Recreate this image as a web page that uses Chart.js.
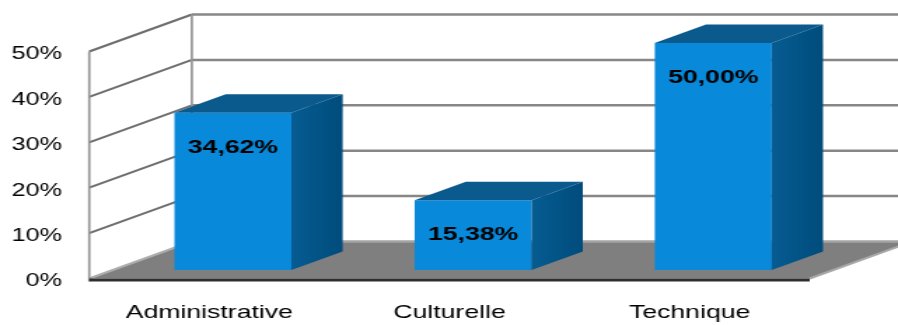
<!DOCTYPE html>
<html>
<head>
<meta charset="utf-8">
<script src="https://cdn.jsdelivr.net/npm/chart.js@4.4.1/dist/chart.umd.min.js"></script>
<style>
  html, body { margin: 0; padding: 0; background: #fff; overflow: hidden; }
  /* the chart is laid out narrow and widened horizontally, giving the stretched Excel look */
  #wrap { position: absolute; left: 0; top: 0; width: 641px; height: 325px;
          transform: scaleX(1.40094); transform-origin: 0 0; }
</style>
</head>
<body>
<div id="wrap"><canvas id="c"></canvas></div>
<script>
// ---- data ----
const categories = ['Administrative', 'Culturelle', 'Technique'];
const shares = [34.62, 15.38, 50.00];
const yTicks = [0, 10, 20, 30, 40, 50];

// ---- 3D look ----
const DEPTH = { x: 73.2, y: -37 };   // full depth of the box (front plane -> back wall)
const BAR_FRONT = 0.23;              // where the bar fronts sit inside the depth
const BAR_DEPTH = 0.5;               // how deep each bar is
const COLORS = {
  front: '#0889DA',
  top: '#0B5A8E',
  floor: '#7f7f7f',
  grid: '#878787',
  wallLine: '#6e6e6e'
};

const fmt = v => v.toFixed(2).replace('.', ',') + '%';

function line(ctx, x1, y1, x2, y2) {
  ctx.beginPath(); ctx.moveTo(x1, y1); ctx.lineTo(x2, y2); ctx.stroke();
}
function poly(ctx, pts) {
  ctx.beginPath();
  pts.forEach((p, i) => i ? ctx.lineTo(p[0], p[1]) : ctx.moveTo(p[0], p[1]));
  ctx.closePath(); ctx.fill();
}

const box3d = {
  id: 'box3d',
  beforeDatasetsDraw(chart) {
    const { ctx, chartArea: a, scales: { y } } = chart;
    const y0 = y.getPixelForValue(0);
    const yTop = y.getPixelForValue(yTicks[yTicks.length - 1]);
    const dx = DEPTH.x, dy = DEPTH.y;
    ctx.save();

    // floor
    ctx.fillStyle = COLORS.floor;
    poly(ctx, [[a.left, y0], [a.right, y0], [a.right + dx, y0 + dy], [a.left + dx, y0 + dy]]);

    // back wall gridlines
    ctx.lineWidth = 2.5;
    yTicks.forEach(v => {
      const py = y.getPixelForValue(v) + dy;
      ctx.strokeStyle = v === 0 ? '#a4a4a4' : COLORS.grid;
      line(ctx, a.left + dx, py, chart.width + 20, py);
    });

    // left wall gridlines (diagonals)
    ctx.lineWidth = 2;
    yTicks.forEach(v => {
      const py = y.getPixelForValue(v);
      ctx.strokeStyle = v === 0 ? '#adadad' : COLORS.wallLine;
      line(ctx, a.left, py, a.left + dx, py + dy);
    });

    // floor right edge
    ctx.strokeStyle = '#a8a8a8';
    line(ctx, a.right, y0, a.right + dx, y0 + dy);

    // wall edges
    ctx.strokeStyle = '#959595';
    ctx.lineWidth = 1.7;
    line(ctx, a.left, yTop, a.left, y0 + 3);
    line(ctx, a.left + dx, yTop + dy, a.left + dx, y0 + dy);

    // dark front edge of the floor
    ctx.strokeStyle = '#2e2e2e';
    ctx.lineWidth = 3;
    line(ctx, a.left, y0 + 1.5, a.right, y0 + 1.5);

    ctx.restore();

    // bars sit a little behind the front plane
    ctx.save();
    ctx.translate(BAR_FRONT * dx, BAR_FRONT * dy);
  },
  afterDatasetsDraw(chart) {
    const { ctx } = chart;
    const meta = chart.getDatasetMeta(0);
    const ox = BAR_DEPTH * DEPTH.x, oy = BAR_DEPTH * DEPTH.y;
    meta.data.forEach((bar, i) => {
      const { x, y, base, width } = bar.getProps(['x', 'y', 'base', 'width'], true);
      const l = x - width / 2, r = x + width / 2;
      // top face
      ctx.fillStyle = COLORS.top;
      poly(ctx, [[l, y], [r, y], [r + ox, y + oy], [l + ox, y + oy]]);
      // side face
      const g = ctx.createLinearGradient(r, 0, r + ox, 0);
      g.addColorStop(0, '#065C92');
      g.addColorStop(1, '#004C7C');
      ctx.fillStyle = g;
      poly(ctx, [[r, y], [r + ox, y + oy], [r + ox, base + oy], [r, base]]);
      // value label
      ctx.fillStyle = '#000';
      ctx.font = 'bold 19px "Liberation Sans", Arial, sans-serif';
      ctx.textAlign = 'center';
      ctx.textBaseline = 'middle';
      ctx.fillText(fmt(shares[i]), x, y + 35);
    });
    ctx.restore();
  }
};

new Chart(document.getElementById('c'), {
  type: 'bar',
  data: {
    labels: categories,
    datasets: [{
      data: shares,
      backgroundColor: COLORS.front,
      borderWidth: 0,
      barPercentage: 0.487,
      categoryPercentage: 1,
      clip: false
    }]
  },
  options: {
    responsive: true,
    maintainAspectRatio: false,
    animation: false,
    events: [],
    layout: { padding: { top: 51.5, right: 63, left: 0, bottom: 0 } },
    plugins: { legend: { display: false }, tooltip: { enabled: false } },
    scales: {
      x: {
        grid: { display: false, drawTicks: false },
        border: { display: false },
        ticks: {
          color: '#000',
          padding: 23,
          maxRotation: 0,
          font: { family: '"Liberation Sans", Arial, sans-serif', size: 19 }
        },
        afterFit: s => { s.height = 46.5; }
      },
      y: {
        min: 0,
        max: 50,
        grid: { display: false, drawTicks: false },
        border: { display: false },
        ticks: {
          stepSize: 10,
          color: '#000',
          padding: 19.5,
          labelOffset: 3,
          font: { family: '"Liberation Sans", Arial, sans-serif', size: 18 },
          callback: v => v + '%'
        },
        afterFit: s => { s.width = 63.7; }
      }
    }
  },
  plugins: [box3d]
});
</script>
</body>
</html>
